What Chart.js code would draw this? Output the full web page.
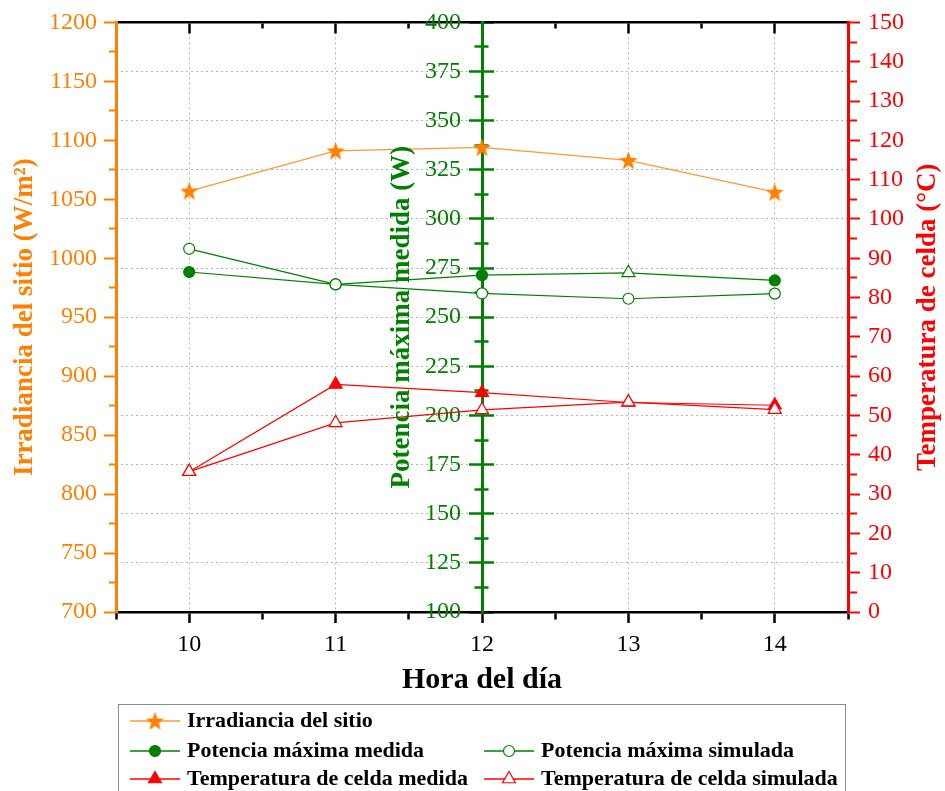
<!DOCTYPE html>
<html lang="es">
<head>
  <meta charset="UTF-8">
  <title>Irradiancia, potencia y temperatura de celda</title>
  <script src="https://cdn.jsdelivr.net/npm/chart.js"></script>
  <style>
    html, body { margin: 0; padding: 0; background: #fff; }
    canvas { display: block; }
  </style>
</head>
<body>
  <canvas id="chart" width="945" height="791"></canvas>
  <script>
    // values
    const hours = [10, 11, 12, 13, 14];
    const hourLabels = ['10', '11', '12', '13', '14'];
    const irradiance = [1057, 1091, 1094, 1083, 1056];
    const powerMeasured = [273, 266.7, 271.4, 272.6, 268.7];
    const powerSimulated = [284.8, 266.7, 262.1, 259.4, 262];
    const tempMeasured = [35.7, 57.9, 55.8, 53.3, 52.6];
    const tempSimulated = [35.7, 48.1, 51.4, 53.4, 51.5];

    const ORANGE = '#ff8000';
    const GREEN = '#008000';
    const RED = '#ff0000';
    const GRID = '#b4b4b4';
    const SERIF = "'Liberation Serif', 'Times New Roman', serif";

    Chart.defaults.font.family = SERIF;
    Chart.defaults.font.size = 24;

    const isMult = (v, s) => Math.abs(v / s - Math.round(v / s)) < 1e-6;
    const pts = arr => hours.map((h, i) => ({ x: h, y: arr[i] }));

    function makeStar(size, color) {
      const c = document.createElement('canvas');
      c.width = c.height = size;
      const g = c.getContext('2d');
      const r = size / 2, ri = r * 0.42;
      g.beginPath();
      for (let i = 0; i < 10; i++) {
        const rad = i % 2 ? ri : r;
        const a = -Math.PI / 2 + i * Math.PI / 5;
        g.lineTo(r + rad * Math.cos(a), r + rad * 1.04 * Math.sin(a) + 0.8);
      }
      g.closePath();
      g.fillStyle = color;
      g.fill();
      return c;
    }
    const star = makeStar(19, ORANGE);

    const datasets = [
      {
        label: 'Irradiancia del sitio', data: pts(irradiance), yAxisID: 'yL', order: 0,
        borderColor: '#ff9a33', borderWidth: 1.3, pointStyle: star, pointRadius: 9, backgroundColor: ORANGE
      },
      {
        label: 'Potencia máxima medida', data: pts(powerMeasured), yAxisID: 'yG', order: 2,
        borderColor: GREEN, borderWidth: 1.2,
        pointStyle: ['circle', 'circle', 'circle', 'triangle', 'circle'],
        pointRadius: [5.5, 5.5, 5.5, 7.5, 5.5],
        pointBackgroundColor: [GREEN, GREEN, GREEN, '#ffffff', GREEN],
        backgroundColor: GREEN, pointBorderWidth: 1.2
      },
      {
        label: 'Potencia máxima simulada', data: pts(powerSimulated), yAxisID: 'yG', order: 1,
        borderColor: GREEN, borderWidth: 1.2, pointStyle: 'circle', pointRadius: 5.5,
        backgroundColor: '#ffffff', pointBorderWidth: 1.2
      },
      {
        label: 'Temperatura de celda medida', data: pts(tempMeasured), yAxisID: 'yR', order: 2,
        borderColor: RED, borderWidth: 1.2, pointStyle: 'triangle', pointRadius: 7.5,
        backgroundColor: RED, pointBorderWidth: 1.2
      },
      {
        label: 'Temperatura de celda simulada', data: pts(tempSimulated), yAxisID: 'yR', order: 1,
        borderColor: RED, borderWidth: 1.2, pointStyle: 'triangle', pointRadius: 7.5,
        backgroundColor: '#ffffff', pointBorderWidth: 1.2
      }
    ];
    datasets.forEach(d => { d.xAxisID = 'x'; d.fill = false; d.tension = 0; });

    function drawMarker(ctx, ds, x, y) {
      const style = Array.isArray(ds.pointStyle) ? ds.pointStyle[0] : ds.pointStyle;
      const radius = Array.isArray(ds.pointRadius) ? ds.pointRadius[0] : ds.pointRadius;
      const bg = Array.isArray(ds.pointBackgroundColor) ? ds.pointBackgroundColor[0] : ds.backgroundColor;
      ctx.save();
      ctx.fillStyle = bg;
      ctx.strokeStyle = ds.borderColor;
      ctx.lineWidth = ds.pointBorderWidth || 1.2;
      Chart.helpers.drawPoint(ctx, { pointStyle: style, radius, rotation: 0, borderWidth: ctx.lineWidth }, x, y);
      ctx.restore();
    }

    function drawVText(ctx, text, x, y, color) {
      ctx.save();
      ctx.translate(x, y);
      ctx.rotate(-Math.PI / 2);
      ctx.font = 'bold 27px ' + SERIF;
      ctx.fillStyle = color;
      ctx.textAlign = 'center';
      ctx.textBaseline = 'middle';
      ctx.fillText(text, 0, 0);
      ctx.restore();
    }

    // extra titles + legend box under the x title
    const extras = {
      id: 'extras',
      afterDraw(chart) {
        const ctx = chart.ctx;
        const area = chart.chartArea;
        const midY = (area.top + area.bottom) / 2;
        drawVText(ctx, 'Potencia máxima medida (W)', chart.scales.x.getPixelForValue(12) - 80, midY, GREEN);
        drawVText(ctx, 'Temperatura de celda (°C)', chart.width - 17, midY, RED);

        ctx.save();
        ctx.strokeStyle = '#8c8c8c';
        ctx.lineWidth = 1;
        ctx.strokeRect(118.5, 704.5, 727, 100);
        ctx.restore();

        const rows = [[0], [1, 2], [3, 4]];
        const colX = [130, 484];
        const rowY = [721, 751, 779];
        const sets = chart.data.datasets;
        rows.forEach((row, r) => {
          row.forEach((idx, c) => {
            const ds = sets[idx];
            const x = colX[c], y = rowY[r];
            ctx.save();
            ctx.strokeStyle = ds.borderColor;
            ctx.lineWidth = 1.3;
            ctx.beginPath();
            ctx.moveTo(x, y);
            ctx.lineTo(x + 50, y);
            ctx.stroke();
            ctx.restore();
            drawMarker(ctx, ds, x + 25, y);
            ctx.save();
            ctx.font = 'bold 22px ' + SERIF;
            ctx.fillStyle = '#000';
            ctx.textBaseline = 'middle';
            ctx.fillText(ds.label, x + 57, y);
            ctx.restore();
          });
        });
      }
    };

    new Chart(document.getElementById('chart'), {
      type: 'line',
      data: { datasets },
      plugins: [extras],
      options: {
        responsive: false,
        animation: false,
        devicePixelRatio: 1,
        layout: { padding: { top: 20, left: 0, right: 0, bottom: 0 } },
        plugins: { legend: { display: false }, tooltip: { enabled: false } },
        scales: {
          x: {
            type: 'linear', position: 'bottom', min: 9.5, max: 14.5,
            afterFit: s => { s.height = 179; },
            ticks: {
              stepSize: 0.5, autoSkip: false, maxRotation: 0, padding: 7, color: '#000',
              font: { size: 24 },
              callback: v => (isMult(v, 1) ? (hourLabels[hours.indexOf(Math.round(v))] || '') : '')
            },
            grid: {
              display: true, drawOnChartArea: true, lineWidth: 1,
              color: c => (c.tick && isMult(c.tick.value, 1) ? GRID : 'transparent'),
              tickLength: 11, tickWidth: 2.5, tickColor: '#000',
              tickBorderDash: c => (c.tick && isMult(c.tick.value, 1) ? [] : [6, 100])
            },
            border: { display: true, color: '#000', width: 2.5, dash: [2, 3] },
            title: {
              display: true, text: 'Hora del día', color: '#000',
              font: { size: 30, weight: 'bold' }, padding: { top: 0, bottom: 93 }
            }
          },
          xTop: {
            type: 'linear', axis: 'x', position: { yG: 400 }, min: 9.5, max: 14.5,
            ticks: { stepSize: 0.5, autoSkip: false, maxRotation: 0, callback: () => '' },
            grid: {
              display: true, drawOnChartArea: false, tickLength: 10, tickWidth: 2.5, tickColor: '#000',
              tickBorderDash: c => (c.tick && isMult(c.tick.value, 1) ? [] : [5, 100])
            },
            border: { display: true, color: '#000', width: 2.5 }
          },
          yL: {
            type: 'linear', position: 'left', min: 700, max: 1200,
            afterFit: s => { s.width = 116; },
            ticks: {
              stepSize: 25, autoSkip: false, padding: 7, color: ORANGE,
              callback: v => (isMult(v, 50) ? String(v) : '')
            },
            grid: {
              display: true, drawOnChartArea: false, tickLength: 12, tickWidth: 2, tickColor: ORANGE,
              tickBorderDash: c => (c.tick && isMult(c.tick.value, 50) ? [] : [0, 5, 7, 100])
            },
            border: { display: true, color: ORANGE, width: 3 },
            title: {
              display: true, text: 'Irradiancia del sitio (W/m²)', color: ORANGE,
              font: { size: 27, weight: 'bold' }, padding: { top: 9, bottom: 0 }
            }
          },
          yR: {
            type: 'linear', position: 'right', min: 0, max: 150,
            afterFit: s => { s.width = 97; },
            ticks: {
              stepSize: 5, autoSkip: false, padding: 8, color: RED,
              callback: v => (isMult(v, 10) ? String(v) : '')
            },
            grid: {
              display: true, drawOnChartArea: false, tickLength: 12, tickWidth: 2, tickColor: RED,
              tickBorderDash: c => (c.tick && isMult(c.tick.value, 10) ? [] : [7, 100])
            },
            border: { display: true, color: RED, width: 3 }
          },
          yG: {
            type: 'linear', axis: 'y', position: { x: 11.857 }, min: 100, max: 400,
            ticks: {
              stepSize: 12.5, autoSkip: false, padding: 0, color: GREEN,
              callback: v => (isMult(v, 25) ? String(v) : '')
            },
            grid: {
              display: true, drawOnChartArea: true, drawTicks: false, lineWidth: 1,
              color: c => (c.tick && isMult(c.tick.value, 25) && c.tick.value > 100 && c.tick.value < 400 ? GRID : 'transparent')
            },
            border: { display: false, dash: [2, 3] }
          },
          yGt: {
            type: 'linear', axis: 'y', position: { x: 12 }, min: 100, max: 400,
            ticks: { stepSize: 12.5, autoSkip: false, callback: () => '' },
            grid: {
              display: true, drawOnChartArea: false, tickLength: 12, tickWidth: 2.5, tickColor: GREEN,
              tickBorderDash: c => (c.tick && isMult(c.tick.value, 25) ? [] : [6.5, 100])
            },
            border: { display: true, color: GREEN, width: 3 }
          },
          yGr: {
            type: 'linear', axis: 'y', position: { x: 12.082 }, min: 100, max: 400,
            ticks: { stepSize: 12.5, autoSkip: false, callback: () => '' },
            grid: {
              display: true, drawOnChartArea: false, tickLength: 12, tickWidth: 2.5, tickColor: GREEN,
              tickBorderDash: c => (c.tick && isMult(c.tick.value, 25) ? [] : [0, 5.5, 6.5, 100])
            },
            border: { display: false }
          }
        }
      }
    });
  </script>
</body>
</html>
